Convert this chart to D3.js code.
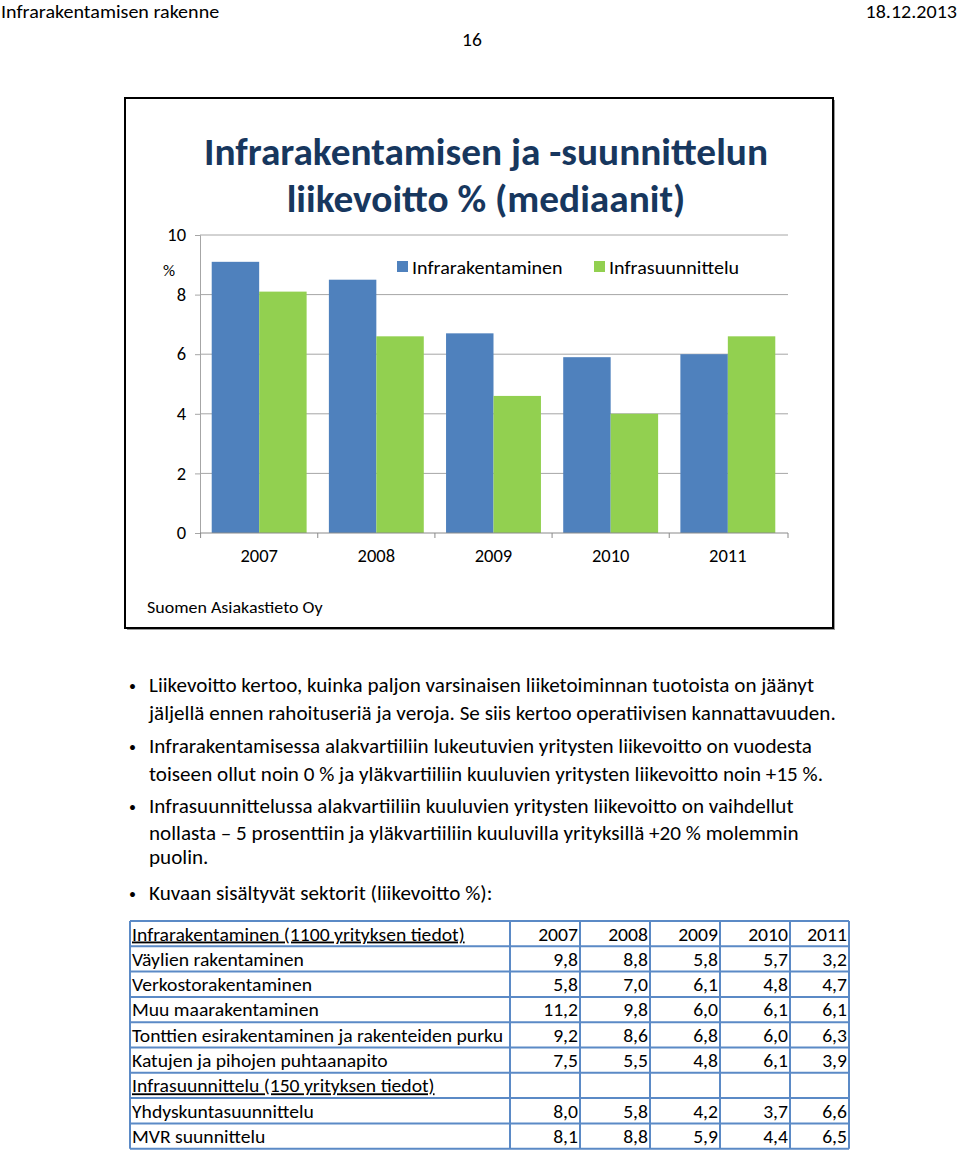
<!DOCTYPE html>
<html>
<head>
<meta charset="utf-8">
<script src="https://cdn.jsdelivr.net/npm/d3@7"></script>
<style>
  html, body { margin: 0; padding: 0; background: #fff; }
  svg text { font-family: Carlito, Calibri, Lato, "Open Sans", sans-serif; }
</style>
</head>
<body>
<svg id="page" width="960" height="1150"></svg>
<script>
// ---------- data ----------
const years = ["2007", "2008", "2009", "2010", "2011"];
const seriesNames = ["Infrarakentaminen", "Infrasuunnittelu"];
const infrarakentaminen = [9.1, 8.5, 6.7, 5.9, 6.0];
const infrasuunnittelu = [8.1, 6.6, 4.6, 4.0, 6.6];
const yTicks = [0, 2, 4, 6, 8, 10];
const titleLines = ["Infrarakentamisen ja -suunnittelun", "liikevoitto % (mediaanit)"];
const sourceText = "Suomen Asiakastieto Oy";
const headerLeft = "Infrarakentamisen rakenne";
const headerRight = "18.12.2013";
const pageNumber = "16";
const bullets = [
  ["Liikevoitto kertoo, kuinka paljon varsinaisen liiketoiminnan tuotoista on jäänyt",
   "jäljellä ennen rahoituseriä ja veroja. Se siis kertoo operatiivisen kannattavuuden."],
  ["Infrarakentamisessa alakvartiiliin lukeutuvien yritysten liikevoitto on vuodesta",
   "toiseen ollut noin 0 % ja yläkvartiiliin  kuuluvien yritysten liikevoitto noin +15 %."],
  ["Infrasuunnittelussa alakvartiiliin kuuluvien yritysten liikevoitto on vaihdellut",
   "nollasta – 5 prosenttiin ja yläkvartiiliin kuuluvilla yrityksillä +20 % molemmin",
   "puolin."],
  ["Kuvaan sisältyvät sektorit (liikevoitto %):"]
];
const tableRows = [
  {label: "Infrarakentaminen (1100 yrityksen tiedot)", values: ["2007", "2008", "2009", "2010", "2011"], head: true},
  {label: "Väylien rakentaminen", values: ["9,8", "8,8", "5,8", "5,7", "3,2"]},
  {label: "Verkostorakentaminen", values: ["5,8", "7,0", "6,1", "4,8", "4,7"]},
  {label: "Muu maarakentaminen", values: ["11,2", "9,8", "6,0", "6,1", "6,1"]},
  {label: "Tonttien esirakentaminen ja rakenteiden purku", values: ["9,2", "8,6", "6,8", "6,0", "6,3"]},
  {label: "Katujen ja pihojen puhtaanapito", values: ["7,5", "5,5", "4,8", "6,1", "3,9"]},
  {label: "Infrasuunnittelu (150 yrityksen tiedot)", values: ["", "", "", "", ""], head: true},
  {label: "Yhdyskuntasuunnittelu", values: ["8,0", "5,8", "4,2", "3,7", "6,6"]},
  {label: "MVR suunnittelu", values: ["8,1", "8,8", "5,9", "4,4", "6,5"]}
];

// ---------- helpers ----------
const svg = d3.select("#page");
const colors = {blue: "#4F81BD", green: "#92D050", title: "#17375E"};
function condense(sel, k) {
  sel.each(function () {
    const w = this.getComputedTextLength();
    d3.select(this).attr("textLength", w * k).attr("lengthAdjust", "spacingAndGlyphs");
  });
}
const condensed = [];
function T(parent, x, y, txt, size, opts = {}) {
  const t = parent.append("text").attr("x", x).attr("y", y).text(txt)
    .attr("font-size", size).attr("fill", opts.fill || "#000")
    .attr("text-anchor", opts.anchor || "start");
  if (opts.weight) t.attr("font-weight", opts.weight);
  if (opts.underline) t.attr("text-decoration", "underline");
  if (!opts.noCondense) condensed.push(t);
  return t;
}

// ---------- header ----------
const hdr = svg.append("g");
T(hdr, 1, 18, headerLeft, 19);
T(hdr, 957, 18, headerRight, 19, {anchor: "end"});
T(hdr, 472, 46, pageNumber, 18.5, {anchor: "middle"});

// ---------- chart frame ----------
const chart = svg.append("g");
chart.append("rect").attr("x", 127).attr("y", 100).attr("width", 708).attr("height", 530)
  .attr("fill", "#9a9a9a");
chart.append("rect").attr("x", 125).attr("y", 98).attr("width", 708).attr("height", 530)
  .attr("fill", "#fff").attr("stroke", "#000").attr("stroke-width", 2);

// title
const titleG = chart.append("g");
const tl1 = T(titleG, 486, 165, titleLines[0], 38, {anchor: "middle", weight: "bold", fill: colors.title, noCondense: true});
const tl2 = T(titleG, 486, 212, titleLines[1], 38, {anchor: "middle", weight: "bold", fill: colors.title, noCondense: true});

// scales
const y = d3.scaleLinear().domain([0, 10]).range([533, 235]);
const x0 = d3.scaleBand().domain(years).range([200, 787]).paddingInner(0.19).paddingOuter(0.1);
const x1 = d3.scaleBand().domain(seriesNames).range([0, x0.bandwidth()]);

// gridlines
chart.append("g").selectAll("line").data(yTicks.filter(d => d > 0)).join("line")
  .attr("x1", 200).attr("x2", 788).attr("y1", d => y(d)).attr("y2", d => y(d))
  .attr("stroke", "#a6a6a6").attr("stroke-width", 1);

// y axis
const yAxis = chart.append("g").attr("transform", "translate(200,0)")
  .call(d3.axisLeft(y).tickValues(yTicks).tickSize(5).tickFormat(d3.format("d")));
yAxis.select(".domain").attr("stroke", "#a6a6a6");
yAxis.selectAll(".tick line").attr("stroke", "#a6a6a6");
yAxis.selectAll(".tick text").attr("font-size", 17.5).attr("fill", "#000")
  .attr("x", -14).attr("font-family", null);
T(chart, 163, 276, "%", 16);

// bars
const seriesData = [infrarakentaminen, infrasuunnittelu];
const barColors = [colors.blue, colors.green];
const groups = chart.append("g").selectAll("g").data(years).join("g")
  .attr("transform", d => `translate(${x0(d)},0)`);
groups.selectAll("rect").data((d, i) => seriesNames.map((s, j) => ({s, v: seriesData[j][i], c: barColors[j]})))
  .join("rect")
  .attr("x", d => x1(d.s)).attr("width", x1.bandwidth())
  .attr("y", d => y(d.v)).attr("height", d => y(0) - y(d.v))
  .attr("fill", d => d.c);

// x axis
const xAxisG = chart.append("g").attr("transform", `translate(0,${y(0)})`);
xAxisG.append("line").attr("x1", 200).attr("x2", 788).attr("y1", 0).attr("y2", 0)
  .attr("stroke", "#8a8a8a");
const boundaries = years.map(d => x0(d) - x0.step() * x0.paddingInner() / 2).concat([788]);
xAxisG.selectAll("line.tk").data(boundaries).join("line").attr("class", "tk")
  .attr("x1", d => d).attr("x2", d => d).attr("y1", 0).attr("y2", 5).attr("stroke", "#8a8a8a");
xAxisG.selectAll("text.yl").data(years).join("text").attr("class", "yl")
  .attr("x", d => x0(d) + x0.bandwidth() / 2).attr("y", 29)
  .attr("text-anchor", "middle").attr("font-size", 17.5).text(d => d);

// legend
const legend = chart.append("g");
const legendX = [397, 594];
seriesNames.forEach((s, i) => {
  legend.append("rect").attr("x", legendX[i]).attr("y", 261).attr("width", 11).attr("height", 11)
    .attr("fill", barColors[i]);
  T(legend, legendX[i] + 15, 274, s, 19);
});

// source
T(chart, 147, 613, sourceText, 17);

// ---------- bullets ----------
const bulletG = svg.append("g");
const bulletBaselines = [[692, 720], [753, 781], [813, 840, 864], [900]];
bullets.forEach((lines, i) => {
  bulletG.append("text").attr("x", 129).attr("y", bulletBaselines[i][0] - 1).attr("font-size", 14)
    .text("•");
  lines.forEach((ln, j) => T(bulletG, 149, bulletBaselines[i][j], ln, 20));
});

// ---------- table ----------
const tbl = svg.append("g");
const colEdges = [130, 510, 580, 650, 720, 790, 849];
const tTop = 921, rowH = 25.3;
const rowY = d3.scaleLinear().domain([0, tableRows.length]).range([tTop, tTop + rowH * tableRows.length]);
tableRows.forEach((r, i) => {
  const yb = rowY(i) + 19.5;
  T(tbl, colEdges[0] + 2, yb, r.label, 18.6, {underline: !!r.head});
  r.values.forEach((v, j) => {
    if (v) T(tbl, colEdges[j + 2] - 2, yb, v, 18.6, {anchor: "end"});
  });
});
// grid lines
tbl.selectAll("line.h").data(d3.range(tableRows.length + 1)).join("line").attr("class", "h")
  .attr("x1", colEdges[0]).attr("x2", colEdges[colEdges.length - 1])
  .attr("y1", d => rowY(d)).attr("y2", d => rowY(d))
  .attr("stroke", "#5B8AC6").attr("stroke-width", 2);
tbl.selectAll("line.v").data(colEdges).join("line").attr("class", "v")
  .attr("x1", d => d).attr("x2", d => d).attr("y1", rowY(0)).attr("y2", rowY(tableRows.length))
  .attr("stroke", "#5B8AC6").attr("stroke-width", 2);

// ---------- condense to match narrow reference face ----------
const probe = condensed.find(t => t.text() === bullets[0][0]);
const k = 665 / probe.node().getComputedTextLength();
condensed.forEach(t => condense(t, k));
const kt = 564 / tl1.node().getComputedTextLength();
condense(tl1, kt); condense(tl2, kt);
yAxis.selectAll(".tick text").each(function () { condense(d3.select(this), k); });
xAxisG.selectAll("text.yl").each(function () { condense(d3.select(this), k); });
</script>
</body>
</html>
